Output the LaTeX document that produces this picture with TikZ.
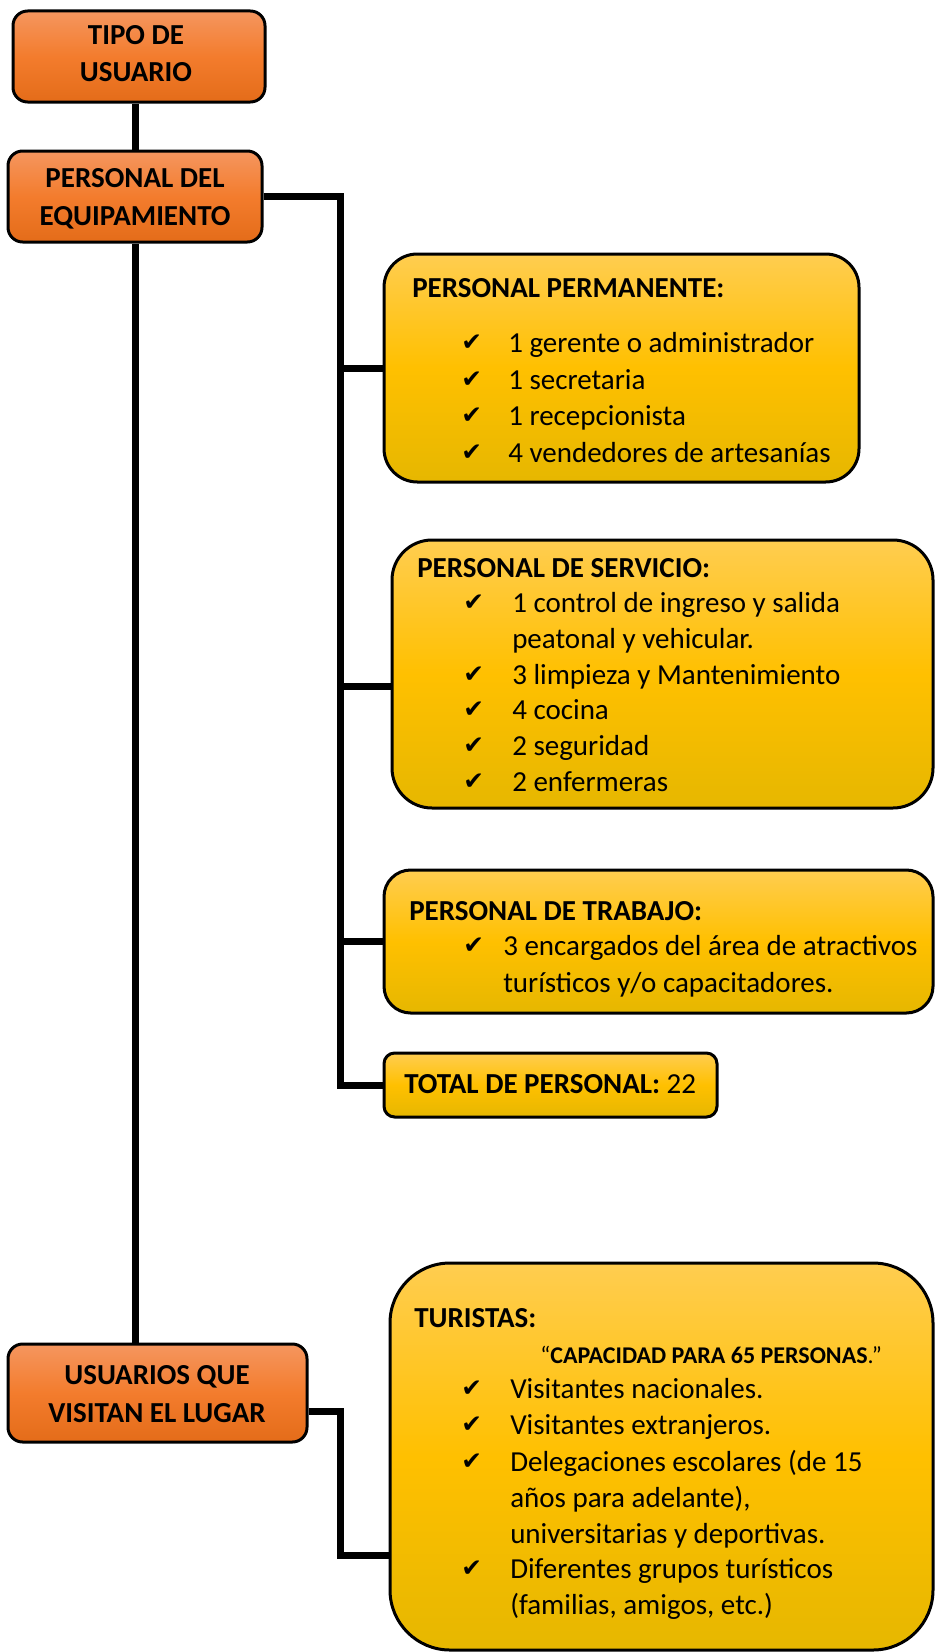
\documentclass[tikz,border=0pt]{standalone}
\usepackage{fontspec}
\setmainfont{Carlito}
\newfontfamily\symfont{DejaVu Sans}
\usetikzlibrary{backgrounds}
\definecolor{orTop}{RGB}{245,150,95}
\definecolor{orMid}{RGB}{243,124,45}
\definecolor{orBot}{RGB}{228,108,25}
\definecolor{yTop}{RGB}{255,205,80}
\definecolor{yMid}{RGB}{255,192,0}
\definecolor{yBot}{RGB}{230,183,0}
\begin{document}
\begin{tikzpicture}[x=0.75pt,y=-0.75pt,
  box/.style={draw=black, line width=2.25pt, rectangle, inner sep=0pt},
  obox/.style={box, top color=orTop, bottom color=orBot, middle color=orMid},
  ybox/.style={box, top color=yTop, bottom color=yBot, middle color=yMid},
  conn/.style={line width=5.25pt, line join=miter},
  t/.style={inner sep=0pt, anchor=base west, font=\fontsize{21.75}{27}\selectfont},
  tb/.style={inner sep=0pt, anchor=base west, font=\fontsize{21.75}{27}\selectfont\bfseries},
  hc/.style={inner sep=0pt, anchor=base, font=\fontsize{21.75}{27}\selectfont\bfseries},
  ck/.style={inner sep=0pt, anchor=base west, font=\symfont\fontsize{18.5}{22}\selectfont},
]
\useasboundingbox (0,0) rectangle (935,1652);

% boxes
\node[obox, rounded corners=11pt, minimum width=252*0.75pt, minimum height=91*0.75pt] (tipo) at (139,56.5) {};
\node[obox, rounded corners=11pt, minimum width=254*0.75pt, minimum height=91*0.75pt] (pe) at (135,196.5) {};
\node[ybox, rounded corners=25pt, minimum width=475*0.75pt, minimum height=228*0.75pt] (perm) at (621.5,368) {};
\node[ybox, rounded corners=30pt, minimum width=541*0.75pt, minimum height=268*0.75pt] (serv) at (662.5,674) {};
\node[ybox, rounded corners=20pt, minimum width=549*0.75pt, minimum height=143*0.75pt] (trab) at (658.5,941.5) {};
\node[ybox, rounded corners=8pt, minimum width=333*0.75pt, minimum height=64*0.75pt] (total) at (550.5,1085) {};
\node[obox, rounded corners=11pt, minimum width=299*0.75pt, minimum height=98*0.75pt] (usu) at (157.5,1393) {};
\node[ybox, rounded corners=45pt, minimum width=543*0.75pt, minimum height=387*0.75pt] (tur) at (661.5,1456.5) {};

% connectors
\begin{scope}[on background layer]
\draw[conn] (pe.north |- tipo.south) -- (pe.north);
\draw[conn] (pe.south) -- (pe.south |- usu.north);
\coordinate (tr) at (340,196.5);
\draw[conn] (pe.east) -- (tr) -- (tr |- total.west) -- (total.west);
\draw[conn] (tr |- perm.west) -- (perm.west);
\coordinate (sv) at ([yshift=-9pt]serv.west);
\draw[conn] (tr |- sv) -- (sv);
\draw[conn] (tr |- trab.west) -- (trab.west);
\coordinate (u1) at ([yshift=-14pt]usu.east);
\coordinate (ut) at (340,1555);
\draw[conn] (u1) -- (u1 -| ut) -- (ut) -- (ut -| tur.west);
\end{scope}

% header texts
\node[hc] (tipo1) at (136,45) {TIPO DE};
\node[hc] (tipo2) at (136,82) {USUARIO};
\node[hc] (pe1) at (135,187) {PERSONAL DEL};
\node[hc] (pe2) at (135,225) {EQUIPAMIENTO};
\node[hc] (usu1) at (157,1384) {USUARIOS QUE};
\node[hc] (usu2) at (157,1422) {VISITAN EL LUGAR};

% permanente
\node[tb] (permT) at (412,297) {PERSONAL PERMANENTE:};
\node[ck] (pc1) at (461,350) {✔};
\node[t] (p1) at (508,352) {1 gerente o administrador};
\node[ck] (pc2) at (461,387) {✔};
\node[t] (p2) at (508,389) {1 secretaria};
\node[ck] (pc3) at (461,423) {✔};
\node[t] (p3) at (508,425) {1 recepcionista};
\node[ck] (pc4) at (461,460) {✔};
\node[t] (p4) at (508,462) {4 vendedores de artesanías};

% servicio
\node[tb] (servT) at (417,577) {PERSONAL DE SERVICIO:};
\node[ck] (sc1) at (463,610) {✔};
\node[t] (s1) at (512,612) {1 control de ingreso y salida};
\node[t] (s1b) at (512,648) {peatonal y vehicular.};
\node[ck] (sc2) at (463,682) {✔};
\node[t] (s2) at (512,684) {3 limpieza y Mantenimiento};
\node[ck] (sc3) at (463,717) {✔};
\node[t] (s3) at (512,719) {4 cocina};
\node[ck] (sc4) at (463,753) {✔};
\node[t] (s4) at (512,755) {2 seguridad};
\node[ck] (sc5) at (463,789) {✔};
\node[t] (s5) at (512,791) {2 enfermeras};

% trabajo
\node[tb] (trabT) at (409,920) {PERSONAL DE TRABAJO:};
\node[ck] (tc1) at (463,953) {✔};
\node[t] (t1) at (503,955) {3 encargados del área de atractivos};
\node[t] (t1b) at (503,992) {turísticos y/o capacitadores.};

% total
\node[t] (totT) at (404,1093) {\textbf{TOTAL DE PERSONAL:} 22};

% turistas
\node[tb] (turT) at (414,1327) {TURISTAS:};
\node[inner sep=0pt, anchor=base west, font=\fontsize{18}{22}\selectfont] (cap) at (540,1363) {“\textbf{CAPACIDAD PARA 65 PERSONAS}.”};
\node[ck] (uc1) at (461,1396) {✔};
\node[t] (u1t) at (510,1398) {Visitantes nacionales.};
\node[ck] (uc2) at (461,1432) {✔};
\node[t] (u2t) at (510,1434) {Visitantes extranjeros.};
\node[ck] (uc3) at (461,1469) {✔};
\node[t] (u3t) at (510,1471) {Delegaciones escolares (de 15};
\node[t] (u3b) at (510,1507) {años para adelante),};
\node[t] (u3c) at (510,1543) {universitarias y deportivas.};
\node[ck] (uc4) at (461,1576) {✔};
\node[t] (u4t) at (510,1578) {Diferentes grupos turísticos};
\node[t] (u4b) at (510,1614) {(familias, amigos, etc.)};
\end{tikzpicture}
\end{document}
